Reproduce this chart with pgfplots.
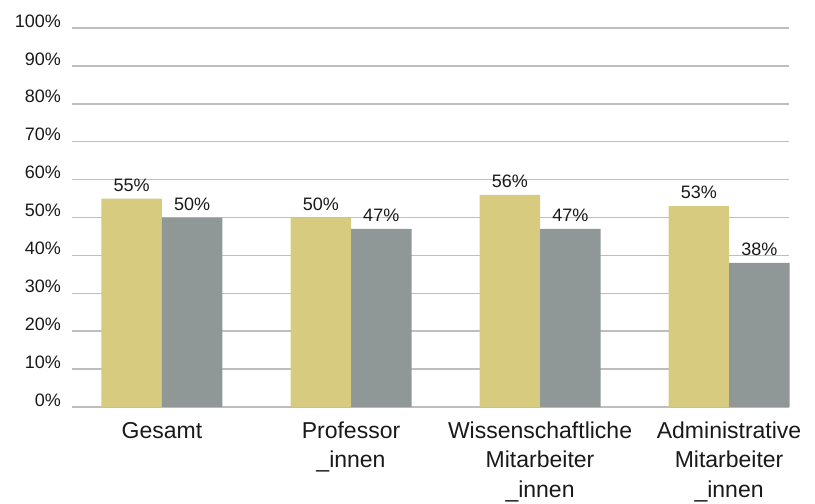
\documentclass[border=0pt]{standalone}
\usepackage{pgfplots}
\pgfplotsset{compat=1.18}
\usepackage{fontspec}
\setmainfont{Liberation Sans}
\definecolor{barY}{RGB}{214,203,126}
\definecolor{barG}{RGB}{143,152,150}
\definecolor{gridc}{RGB}{190,190,190}
\definecolor{txt}{RGB}{25,25,25}
\begin{document}
\begin{tikzpicture}
\begin{axis}[
  scale only axis,
  width=358.5pt, height=189.5pt,
  ybar=0pt, bar width=0.32,
  xmin=-0.476, xmax=3.317, ymin=0, ymax=100,
  xtick=data,
  xticklabels={Gesamt, Professor\\\_innen, Wissenschaftliche\\Mitarbeiter\\\_innen, Administrative\\Mitarbeiter\\\_innen},
  xticklabel style={align=center, font=\fontsize{11.5}{14.6}\selectfont, text=txt, yshift=-4pt},
  ytick={0,10,...,100},
  yticklabel={\pgfmathprintnumber{\tick}\%},
  yticklabel style={font=\fontsize{9}{10}\selectfont, text=txt, yshift=3.5pt, xshift=-2pt},
  /pgf/number format/assume math mode=true,
  axis x line*=bottom, axis y line*=left,
  x axis line style={draw=gridc, line width=0.75pt},
  y axis line style={draw=none},
  ymajorgrids, grid style={draw=gridc, line width=0.75pt},
  major tick length=0pt,
  nodes near coords={\pgfmathprintnumber{\pgfplotspointmeta}\%},
  nodes near coords style={font=\fontsize{9}{10}\selectfont, text=txt, /pgf/number format/assume math mode=true},
  every axis plot/.append style={draw=none},
  clip=false,
]
\addplot[fill=barY] coordinates {(0,55) (1,50) (2,56) (3,53)};
\addplot[fill=barG] coordinates {(0,50) (1,47) (2,47) (3,38)};
\end{axis}
\pgfresetboundingbox
\path (-36pt,-48.5pt) rectangle (371.5pt,203.5pt);
\end{tikzpicture}
\end{document}
